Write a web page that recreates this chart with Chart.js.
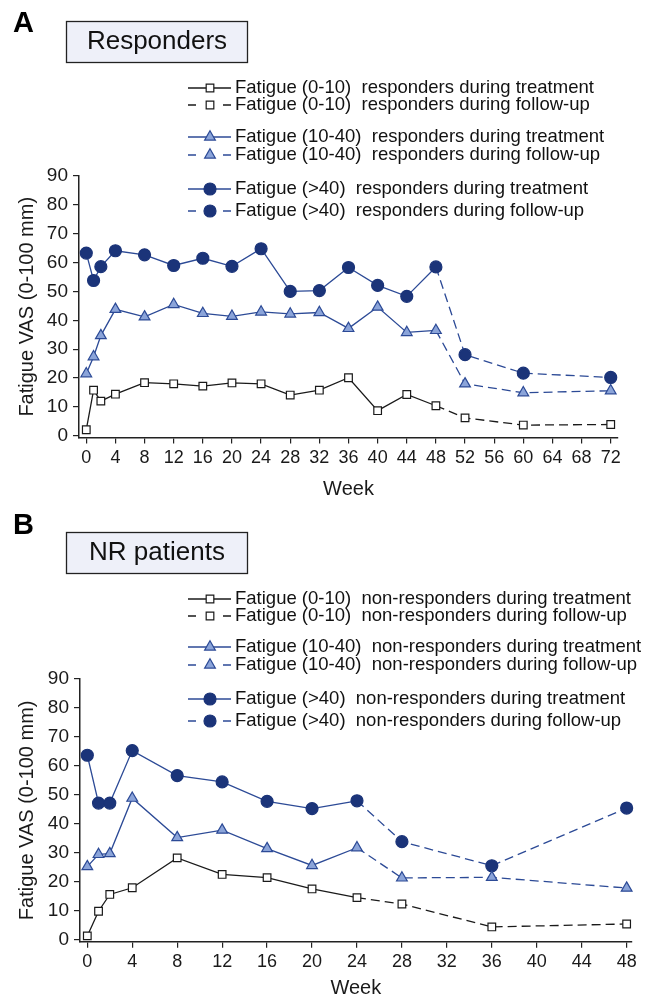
<!DOCTYPE html>
<html>
<head>
<meta charset="utf-8">
<script src="https://cdn.jsdelivr.net/npm/chart.js@4.4.1/dist/chart.umd.min.js"></script>
<style>
  html, body { margin: 0; padding: 0; background: #fff; }
  canvas { display: block; }
</style>
</head>
<body>
<canvas id="chartA" width="658" height="499"></canvas>
<canvas id="chartB" width="658" height="499"></canvas>
<script>
// data
const weeksA = [0, 1, 2, 4, 8, 12, 16, 20, 24, 28, 32, 36, 40, 44, 48, 52, 60, 72];
const lowA   = [2.1, 15.8, 12.0, 14.4, 18.4, 18.0, 17.2, 18.3, 18.0, 14.1, 15.8, 20.1, 8.7, 14.3, 10.4, 6.2, 3.7, 3.9];
const midA   = [21.5, 27.4, 34.7, 43.8, 41.2, 45.5, 42.4, 41.4, 42.9, 42.2, 42.7, 37.2, 44.6, 35.8, 36.5, 18.0, 14.9, 15.6];
const highA  = [63.3, 53.8, 58.6, 64.1, 62.7, 59.0, 61.5, 58.7, 64.8, 50.0, 50.3, 58.3, 52.1, 48.3, 58.5, 28.1, 21.7, 20.2];
const endTreatmentA = 48;

const weeksB = [0, 1, 2, 4, 8, 12, 16, 20, 24, 28, 36, 48];
const lowB   = [1.4, 9.9, 15.7, 18.0, 28.3, 22.6, 21.5, 17.6, 14.6, 12.4, 4.5, 5.5];
const midB   = [25.3, 29.5, 29.8, 48.9, 35.3, 37.9, 31.5, 25.7, 31.8, 21.4, 21.6, 17.9];
const highB  = [63.7, 47.2, 47.2, 65.3, 56.7, 54.5, 47.8, 45.3, 48.0, 33.9, 25.6, 45.5];
const endTreatmentB = 24;

const yTicks  = [0, 10, 20, 30, 40, 50, 60, 70, 80, 90];
const xTicksA = [0, 4, 8, 12, 16, 20, 24, 28, 32, 36, 40, 44, 48, 52, 56, 60, 64, 68, 72];
const xTicksB = [0, 4, 8, 12, 16, 20, 24, 28, 32, 36, 40, 44, 48];

const groups = ["Fatigue (0-10)", "Fatigue (10-40)", "Fatigue (>40)"];
const phases = ["during treatment", "during follow-up"];

const FONT = '"Liberation Sans", Arial, Helvetica, sans-serif';
const INK = '#1a1a1a';
const NAVY = '#2c4a96';
const NAVY_DARK = '#1b3479';
const TRI_FILL = '#8ba4d9';

const markerStyles = [
  { style: 'rect', radius: 5.4, fill: '#ffffff', stroke: INK, line: INK },
  { style: 'triangle', radius: 6.2, fill: TRI_FILL, stroke: NAVY, line: NAVY },
  { style: 'circle', radius: 6, fill: NAVY_DARK, stroke: NAVY_DARK, line: NAVY }
];

function drawMarker(ctx, m, x, y) {
  ctx.beginPath();
  if (m.style === 'rect') {
    const s = m.radius * Math.SQRT1_2;
    ctx.rect(x - s, y - s, 2 * s, 2 * s);
  } else if (m.style === 'triangle') {
    const r = m.radius;
    ctx.moveTo(x, y - r);
    ctx.lineTo(x + r * Math.sin(2 * Math.PI / 3), y - r * Math.cos(2 * Math.PI / 3));
    ctx.lineTo(x + r * Math.sin(4 * Math.PI / 3), y - r * Math.cos(4 * Math.PI / 3));
    ctx.closePath();
  } else {
    ctx.arc(x, y, m.radius, 0, Math.PI * 2);
  }
  ctx.fillStyle = m.fill;
  ctx.fill();
  ctx.lineWidth = 1.2;
  ctx.strokeStyle = m.stroke;
  ctx.stroke();
}

// panel letter, title box and legend
const panelDeco = {
  id: 'panelDeco',
  afterDraw(chart, args, o) {
    const ctx = chart.ctx;
    ctx.save();
    ctx.fillStyle = '#000';
    ctx.font = 'bold 29px ' + FONT;
    ctx.textAlign = 'left';
    ctx.textBaseline = 'alphabetic';
    ctx.fillText(o.letter, 13, o.letterY);

    ctx.fillStyle = '#eef0f9';
    ctx.fillRect(66, o.boxTop, 182, 41);
    ctx.strokeStyle = '#222';
    ctx.lineWidth = 1.3;
    ctx.strokeRect(66.5, o.boxTop + 0.5, 181, 41);
    ctx.fillStyle = '#111';
    ctx.font = '26px ' + FONT;
    ctx.textAlign = 'center';
    ctx.textBaseline = 'middle';
    ctx.fillText(o.title, 157, o.boxTop + 21);

    ctx.font = '18.5px ' + FONT;
    ctx.textAlign = 'left';
    let row = 0;
    groups.forEach((g, gi) => {
      phases.forEach((p, pi) => {
        const y = o.rowsY[row++];
        const m = markerStyles[gi];
        ctx.strokeStyle = m.line;
        ctx.lineWidth = 1.3;
        ctx.beginPath();
        if (pi === 0) {
          ctx.moveTo(188, y); ctx.lineTo(231, y);
        } else {
          ctx.moveTo(188, y); ctx.lineTo(196, y);
          ctx.moveTo(223, y); ctx.lineTo(231, y);
        }
        ctx.stroke();
        drawMarker(ctx, m, 210, y);
        ctx.fillStyle = '#111';
        ctx.fillText(g + '  ' + o.who + ' ' + p, 235, y);
      });
    });
    ctx.restore();
  }
};

function series(weeks, values, m, endTreatment) {
  return {
    data: weeks.map((w, i) => ({ x: w, y: values[i] })),
    borderColor: m.line,
    borderWidth: 1.3,
    pointStyle: m.style,
    pointRadius: m.radius,
    pointHoverRadius: m.radius,
    pointBackgroundColor: m.fill,
    pointBorderColor: m.stroke,
    pointBorderWidth: 1.2,
    tension: 0,
    clip: false,
    segment: {
      borderDash: ctx => ctx.p0.parsed.x >= endTreatment ? [9, 5] : undefined
    }
  };
}

function makeChart(id, weeks, vals, endTreatment, xTicks, xMin, xMax, area, deco, weekPad) {
  const H = 499;
  return new Chart(document.getElementById(id), {
    type: 'line',
    data: {
      datasets: vals.map((v, i) => series(weeks, v, markerStyles[i], endTreatment))
    },
    options: {
      responsive: false,
      animation: false,
      devicePixelRatio: 1,
      layout: { padding: { top: area.top, right: 658 - area.right, left: 0, bottom: 0 } },
      plugins: {
        legend: { display: false },
        tooltip: { enabled: false },
        panelDeco: deco
      },
      scales: {
        x: {
          type: 'linear',
          min: xMin,
          max: xMax,
          afterBuildTicks: s => { s.ticks = xTicks.map(v => ({ value: v })); },
          afterFit: s => { s.height = H - area.bottom; },
          grid: { drawOnChartArea: false, drawTicks: true, tickLength: 6, color: '#222', lineWidth: 1.2 },
          border: { display: true, color: '#222', width: 1.5 },
          ticks: { autoSkip: false, maxRotation: 0, padding: 4, color: INK, font: { family: FONT, size: 18 } },
          title: { display: true, text: 'Week', color: INK, font: { family: FONT, size: 20, lineHeight: 1 }, padding: { top: weekPad, bottom: 0 } }
        },
        y: {
          type: 'linear',
          min: -0.6,
          max: 90,
          afterBuildTicks: s => { s.ticks = yTicks.map(v => ({ value: v })); },
          afterFit: s => { s.width = area.left; },
          grid: { drawOnChartArea: false, drawTicks: true, tickLength: 6, color: '#222', lineWidth: 1.2 },
          border: { display: true, color: '#222', width: 1.5 },
          ticks: { padding: 5, color: INK, font: { family: FONT, size: 19 } },
          title: { display: true, text: 'Fatigue VAS (0-100 mm)', color: INK, font: { family: FONT, size: 20, lineHeight: 1.2 }, padding: { top: 15, bottom: 0 } }
        }
      }
    },
    plugins: [panelDeco]
  });
}

makeChart('chartA', weeksA, [lowA, midA, highA], endTreatmentA, xTicksA, -1, 73,
  { top: 176, bottom: 437.5, left: 79, right: 618 },
  { letter: 'A', letterY: 32, boxTop: 21, title: 'Responders', who: 'responders',
    rowsY: [88, 105, 137, 155, 189, 211] }, 3);

makeChart('chartB', weeksB, [lowB, midB, highB], endTreatmentB, xTicksB, -0.65, 48.45,
  { top: 180, bottom: 442.7, left: 80, right: 631.7 },
  { letter: 'B', letterY: 35, boxTop: 33, title: 'NR patients', who: 'non-responders',
    rowsY: [100, 117, 148, 166, 200, 222] }, 0);
</script>
</body>
</html>
